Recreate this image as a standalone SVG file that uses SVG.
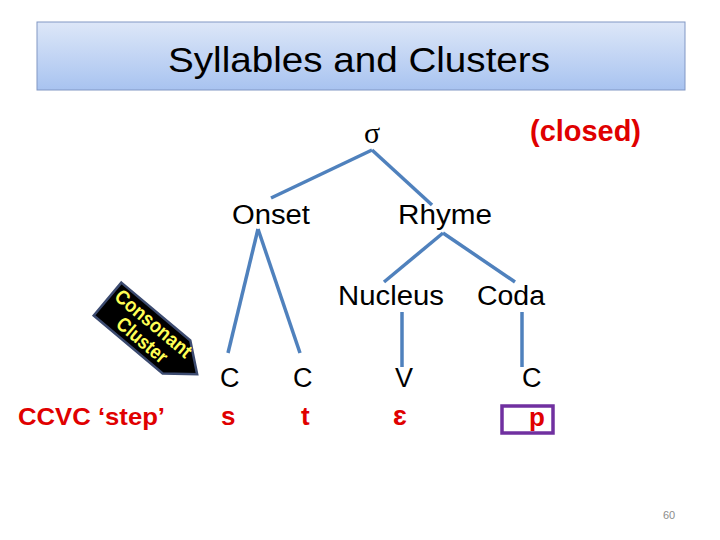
<svg xmlns="http://www.w3.org/2000/svg" width="720" height="540" viewBox="0 0 720 540">
<defs>
<linearGradient id="tg" x1="0" y1="0" x2="0" y2="1">
<stop offset="0" stop-color="#dde7f8"/>
<stop offset="1" stop-color="#a8c3f0"/>
</linearGradient>
<style>
.t{font-family:"Liberation Sans",Arial,sans-serif;fill:#000}
.r{font-family:"Liberation Sans",Arial,sans-serif;font-weight:bold;fill:#e00000}
.e{stroke:#4f81bd;stroke-width:3.5;fill:none;stroke-linecap:butt}
.y{font-family:"Liberation Sans",Arial,sans-serif;font-weight:bold;font-size:20px;fill:#ffff55}
</style>
</defs>
<rect width="720" height="540" fill="#fff"/>
<g id="title">
<rect x="37" y="22" width="648" height="68" fill="url(#tg)" stroke="#8197c4" stroke-width="1"/>
<text class="t" x="168" y="72" font-size="35" textLength="382" lengthAdjust="spacingAndGlyphs">Syllables and Clusters</text>
</g>
<g id="edges">
<line class="e" x1="372" y1="150" x2="271" y2="198"/>
<line class="e" x1="372" y1="150" x2="432" y2="205"/>
<line class="e" x1="258" y1="229" x2="228" y2="353"/>
<line class="e" x1="258" y1="229" x2="300" y2="353"/>
<line class="e" x1="443" y1="233" x2="384" y2="282"/>
<line class="e" x1="443" y1="233" x2="515" y2="282"/>
<line class="e" x1="402" y1="312" x2="402" y2="367"/>
<line class="e" x1="522" y1="312" x2="522" y2="367"/>
</g>
<g id="sigma"><text x="364" y="143" font-family="'Liberation Serif',serif" font-size="30" fill="#000">σ</text></g>
<g id="closed"><text class="r" x="530" y="141" font-size="29" textLength="111" lengthAdjust="spacingAndGlyphs">(closed)</text></g>
<g id="onset"><text class="t" x="232" y="224" font-size="27" textLength="78" lengthAdjust="spacingAndGlyphs">Onset</text></g>
<g id="rhyme"><text class="t" x="398" y="224" font-size="27" textLength="94" lengthAdjust="spacingAndGlyphs">Rhyme</text></g>
<g id="nucleus"><text class="t" x="338" y="305" font-size="27" textLength="106" lengthAdjust="spacingAndGlyphs">Nucleus</text></g>
<g id="coda"><text class="t" x="477" y="305" font-size="27" textLength="68" lengthAdjust="spacingAndGlyphs">Coda</text></g>
<g id="c1"><text class="t" x="220" y="387" font-size="27">C</text><text class="r" x="221" y="425" font-size="26">s</text></g>
<g id="c2"><text class="t" x="293" y="387" font-size="27">C</text><text class="r" x="301" y="425" font-size="26">t</text></g>
<g id="v"><text class="t" x="395" y="387" font-size="27">V</text><text class="r" x="393" y="425" font-size="28" font-family="'DejaVu Sans',sans-serif">ɛ</text></g>
<g id="c3"><text class="t" x="522" y="387" font-size="27">C</text>
<rect x="502" y="406" width="51" height="27" fill="none" stroke="#7030a0" stroke-width="3.5"/>
<text class="r" x="529" y="426" font-size="26">p</text></g>
<g id="ccvc"><text class="r" x="18" y="425" font-size="24" textLength="147" lengthAdjust="spacingAndGlyphs">CCVC  ‘step’</text></g>
<g id="cluster" transform="translate(142,328) rotate(40)">
<polygon points="-45,-21.5 45,-21.5 72,0 45,21.5 -45,21.5" fill="#000" stroke="#3c4b70" stroke-width="2.5"/>
<text class="y" x="-41" y="-4" textLength="94" lengthAdjust="spacingAndGlyphs">Consonant</text>
<text class="y" x="-22" y="16" textLength="60" lengthAdjust="spacingAndGlyphs">Cluster</text>
</g>
<g id="page"><text x="663" y="519" font-family="'Liberation Sans',Arial,sans-serif" font-size="11" fill="#8c8c8c">60</text></g>
</svg>
